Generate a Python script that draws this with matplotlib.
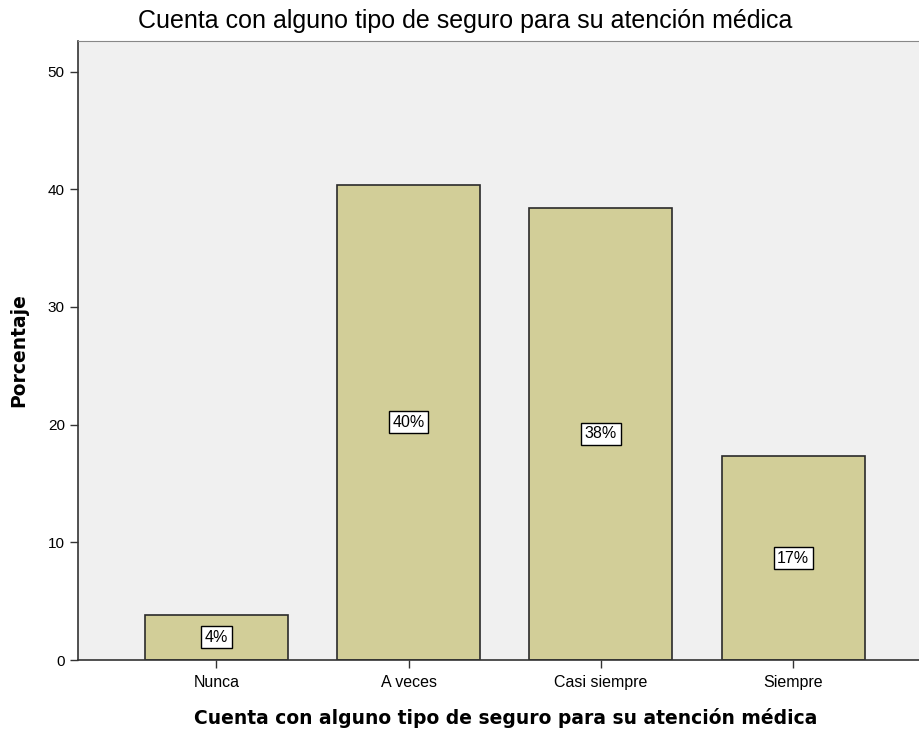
import matplotlib.pyplot as plt

categorias = ["Nunca", "A veces", "Casi siempre", "Siempre"]
porcentajes = [3.83, 40.4, 38.45, 17.3]
etiquetas = ["4%", "40%", "38%", "17%"]
yticks = [0, 10, 20, 30, 40, 50]

plt.rcParams["font.family"] = ["Liberation Sans", "DejaVu Sans"]

fig = plt.figure(figsize=(9.2, 7.31), dpi=100)
ax = fig.add_axes([0.0848, 0.0971, 0.9152, 0.8468])
ax.set_facecolor("#f0f0f0")

x = list(range(len(categorias)))
ax.bar(x, porcentajes, width=0.745, color="#d2ce98", edgecolor="#2a2a2a", linewidth=1.2, zorder=2)

# rótulos dentro das barras
for xi, v, lab in zip(x, porcentajes, etiquetas):
    ax.text(xi, v / 2, lab, ha="center", va="center", fontsize=11.5, zorder=3,
            bbox=dict(boxstyle="square,pad=0.22", facecolor="white", edgecolor="black", linewidth=1))

ax.set_xlim(-0.72, 3.66)
ax.set_ylim(0, 52.6)
ax.set_xticks(x)
ax.set_xticklabels(categorias, fontsize=11.5)
ax.set_yticks(yticks)
ax.set_yticklabels([str(t) for t in yticks], fontsize=11)
ax.tick_params(axis="x", pad=5)
ax.tick_params(axis="both", direction="out", length=6, width=1, color="#333333")

ax.spines["right"].set_visible(False)
ax.spines["top"].set_color("#888888")
ax.spines["left"].set_color("#333333")
ax.spines["bottom"].set_color("#333333")
ax.spines["left"].set_linewidth(1.2)
ax.spines["bottom"].set_linewidth(1.2)

fig.text(0.506, 0.971, "Cuenta con alguno tipo de seguro para su atención médica",
         ha="center", va="center", fontsize=18, color="#000000")
ax.set_xlabel("Cuenta con alguno tipo de seguro para su atención médica",
              fontsize=13.5, fontweight="bold", family="DejaVu Sans", labelpad=14)
ax.xaxis.set_label_coords(0.508, -0.078)
ax.set_ylabel("Porcentaje", fontsize=13.5, fontweight="bold", family="DejaVu Sans", labelpad=14)

plt.savefig("out.png", dpi=100)
